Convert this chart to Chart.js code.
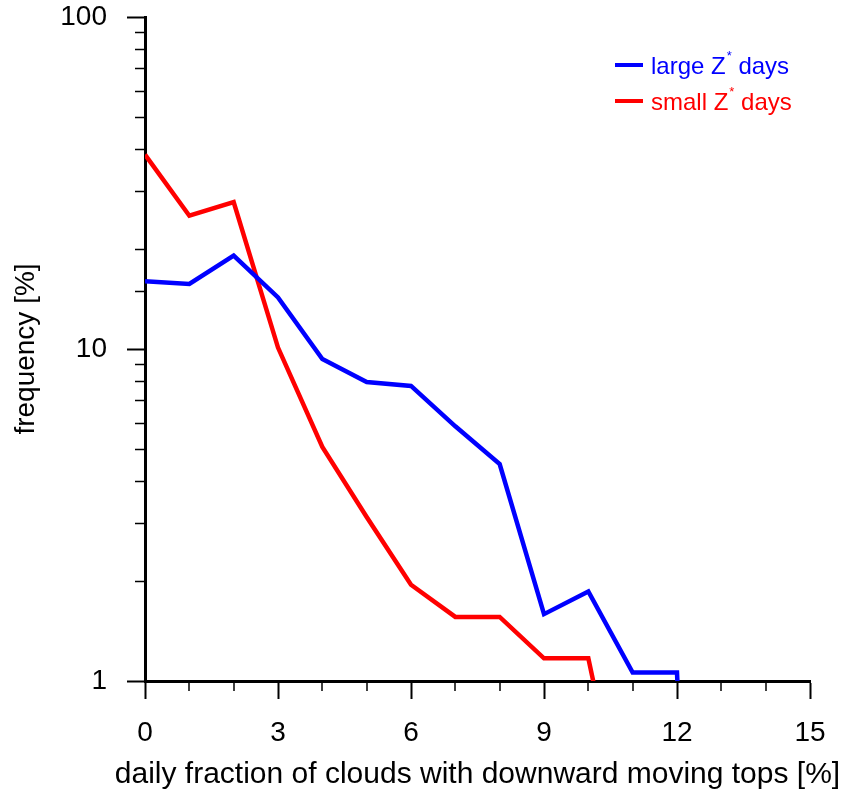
<!DOCTYPE html>
<html>
<head>
<meta charset="utf-8">
<script src="https://cdn.jsdelivr.net/npm/chart.js@4/dist/chart.umd.min.js"></script>
<style>
  html, body { margin: 0; padding: 0; background: #fff; }
  #wrap { width: 847px; height: 797px; }
</style>
</head>
<body>
<div id="wrap"><canvas id="freqChart" width="847" height="797"></canvas></div>
<script>
// valori
const xValues = [0, 1, 2, 3, 4, 5, 6, 7, 8, 9, 10, 11, 12, 13, 14, 15];
const largeZ = [16.0, 15.7, 19.1, 14.3, 9.33, 7.95, 7.74, 5.85, 4.5, 1.59, 1.86, 1.06, 1.06, 0.001, null, null];
const smallZ = [38.5, 25.2, 27.7, 10.1, 5.07, 3.12, 1.95, 1.56, 1.56, 1.17, 1.17, 0.28, null, null, null, null];
const xTickLabels = [0, 3, 6, 9, 12, 15];
const yTickLabels = [1, 10, 100];
const seriesNames = ['large Z', 'small Z'];
const xTitle = 'daily fraction of clouds with downward moving tops [%]';

const FONT = "'Liberation Sans', Arial, Helvetica, sans-serif";

function toPoints(ys) {
    return xValues.map((x, i) => ({ x: x, y: ys[i] }));
}

// ticks minore (mai scurte)
const minorTicks = {
    id: 'minorTicks',
    afterDatasetsDraw(chart) {
        const ctx = chart.ctx;
        const area = chart.chartArea;
        const xs = chart.scales.x, ys = chart.scales.y;
        ctx.save();
        ctx.strokeStyle = '#000';
        ctx.lineWidth = 1.5;
        ctx.beginPath();
        xs.ticks.forEach(t => {
            if (xTickLabels.includes(t.value)) return;
            const px = Math.round(xs.getPixelForValue(t.value));
            ctx.moveTo(px, area.bottom);
            ctx.lineTo(px, area.bottom + 10);
        });
        ys.ticks.forEach(t => {
            if (yTickLabels.includes(t.value)) return;
            const py = Math.round(ys.getPixelForValue(t.value)) + 0.5;
            ctx.moveTo(area.left, py);
            ctx.lineTo(area.left - 10, py);
        });
        ctx.stroke();
        ctx.restore();
    }
};

// titlul axei x (fără maxWidth, ca să nu fie comprimat)
const xAxisTitle = {
    id: 'xAxisTitle',
    afterDraw(chart) {
        const ctx = chart.ctx;
        const area = chart.chartArea;
        ctx.save();
        ctx.fillStyle = '#000';
        ctx.font = '30px ' + FONT;
        ctx.textAlign = 'center';
        ctx.textBaseline = 'middle';
        ctx.fillText(xTitle, (area.left + area.right) / 2, chart.height - 22);
        ctx.restore();
    }
};

// legenda cu Z* (asterisc ridicat)
const starLegend = {
    id: 'starLegend',
    afterDraw(chart) {
        const ctx = chart.ctx;
        const area = chart.chartArea;
        const x0 = area.right - 195;
        const rows = [
            { y: area.top + 48, color: '#0000ff', name: seriesNames[0] },
            { y: area.top + 84, color: '#ff0000', name: seriesNames[1] }
        ];
        ctx.save();
        rows.forEach(r => {
            ctx.strokeStyle = r.color;
            ctx.lineWidth = 4;
            ctx.beginPath();
            ctx.moveTo(x0, r.y);
            ctx.lineTo(x0 + 28, r.y);
            ctx.stroke();
            ctx.fillStyle = r.color;
            ctx.textBaseline = 'alphabetic';
            ctx.textAlign = 'left';
            ctx.font = '24px ' + FONT;
            let tx = x0 + 36;
            const base = r.y + 9;
            ctx.fillText(r.name, tx, base);
            tx += ctx.measureText(r.name).width + 1;
            ctx.font = '13px ' + FONT;
            ctx.fillText('*', tx, base - 14);
            tx += ctx.measureText('*').width;
            ctx.font = '24px ' + FONT;
            ctx.fillText(' days', tx, base);
        });
        ctx.restore();
    }
};

const ctx = document.getElementById('freqChart').getContext('2d');
new Chart(ctx, {
    type: 'line',
    data: {
        datasets: [
            {
                label: 'large Z* days',
                data: toPoints(largeZ),
                borderColor: '#0000ff',
                borderWidth: 4.5,
                pointRadius: 0,
                tension: 0,
                spanGaps: false
            },
            {
                label: 'small Z* days',
                data: toPoints(smallZ),
                borderColor: '#ff0000',
                borderWidth: 4.5,
                pointRadius: 0,
                tension: 0,
                spanGaps: false
            }
        ]
    },
    options: {
        responsive: false,
        animation: false,
        layout: { padding: { left: 0, right: 37, top: 17, bottom: 0 } },
        plugins: {
            legend: { display: false },
            tooltip: { enabled: false }
        },
        scales: {
            x: {
                type: 'linear',
                min: 0,
                max: 15,
                afterFit: s => { s.height = 116; s.paddingLeft = 0; s.paddingRight = 0; },
                border: { display: true, color: '#000', width: 3 },
                grid: {
                    display: true,
                    drawOnChartArea: false,
                    drawTicks: true,
                    tickLength: 18,
                    tickWidth: 2,
                    tickColor: c => xTickLabels.includes(c.tick.value) ? '#000' : 'rgba(0,0,0,0)'
                },
                ticks: {
                    stepSize: 1,
                    autoSkip: false,
                    maxRotation: 0,
                    padding: 17,
                    color: '#000',
                    font: { family: FONT, size: 28 },
                    callback: v => xTickLabels.includes(v) ? String(v) : ''
                },
                title: { display: false }
            },
            y: {
                type: 'logarithmic',
                min: 1,
                max: 100,
                afterFit: s => { s.width = 145; s.paddingTop = 0; s.paddingBottom = 0; },
                border: { display: true, color: '#000', width: 3 },
                grid: {
                    display: true,
                    drawOnChartArea: false,
                    drawTicks: true,
                    tickLength: 18,
                    tickWidth: 2,
                    tickColor: c => yTickLabels.includes(c.tick.value) ? '#000' : 'rgba(0,0,0,0)'
                },
                ticks: {
                    autoSkip: false,
                    padding: 20,
                    color: '#000',
                    font: { family: FONT, size: 28 },
                    callback: v => yTickLabels.includes(v) ? String(v) : ''
                },
                title: {
                    display: true,
                    text: 'frequency [%]',
                    color: '#000',
                    font: { family: FONT, size: 28 },
                    padding: { top: 9, bottom: 0 }
                }
            }
        }
    },
    plugins: [minorTicks, xAxisTitle, starLegend]
});
</script>
</body>
</html>
